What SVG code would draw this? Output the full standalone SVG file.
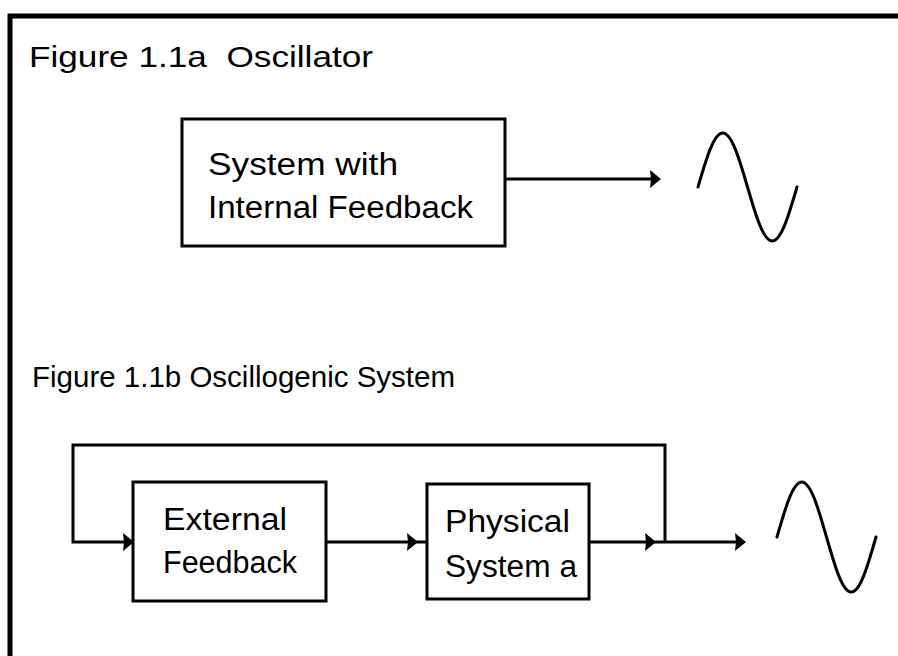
<svg xmlns="http://www.w3.org/2000/svg" width="898" height="656" viewBox="0 0 898 656">
<style>
  .box { fill: #ffffff; stroke: #000; stroke-width: 3; }
  .ln { fill: none; stroke: #000; stroke-width: 3; }
  .wave { fill: none; stroke: #000; stroke-width: 3; stroke-linecap: round; }
  .ah { fill: #000; }
  text { font-family: "Liberation Sans", "DejaVu Sans", sans-serif; fill: #000; }
  .h { font-size: 29px; }
  .t { font-size: 31px; }
</style>
<defs>
  <path id="arrow" class="ah" d="M0,0 L-11,-9 L-10,0 L-11,9 Z"/>
</defs>
<rect x="0" y="0" width="898" height="656" fill="#ffffff"/>
<path d="M10,656 L10,16 L898,16" fill="none" stroke="#000" stroke-width="5"/>

<text class="h" x="29" y="67" textLength="344" lengthAdjust="spacingAndGlyphs" xml:space="preserve">Figure 1.1a  Oscillator</text>
<text class="h" x="32" y="387" textLength="423" lengthAdjust="spacingAndGlyphs">Figure 1.1b Oscillogenic System</text>

<g id="node-internal">
  <rect class="box" x="182" y="119" width="323" height="127"/>
  <text class="t" x="208" y="175" textLength="190" lengthAdjust="spacingAndGlyphs">System with</text>
  <text class="t" x="208" y="218" textLength="265" lengthAdjust="spacingAndGlyphs">Internal Feedback</text>
</g>
<g id="node-wave1">
  <path class="wave" d="M698,187 C706.27,158.64 713.8,133 722.75,133 C731.7,133 739.23,158.64 747.5,187 C755.77,215.36 763.3,241 772.25,241 C781.2,241 788.73,215.36 797,187"/>
</g>
<g id="node-external">
  <rect class="box" x="133" y="482" width="193" height="119"/>
  <text class="t" x="163" y="530" textLength="124" lengthAdjust="spacingAndGlyphs">External</text>
  <text class="t" x="163" y="573" textLength="134" lengthAdjust="spacingAndGlyphs">Feedback</text>
</g>
<g id="node-physical">
  <rect class="box" x="427" y="484" width="162" height="115"/>
  <text class="t" x="445" y="532" textLength="125" lengthAdjust="spacingAndGlyphs">Physical</text>
  <text class="t" x="445" y="577" textLength="132" lengthAdjust="spacingAndGlyphs">System a</text>
</g>
<g id="node-wave2">
  <path class="wave" d="M777,537 C785.27,508.12 792.8,482 801.75,482 C810.7,482 818.23,508.12 826.5,537 C834.77,565.88 842.3,592 851.25,592 C860.2,592 867.73,565.88 876,537"/>
</g>

<g id="connectors">
  <line class="ln" x1="505" y1="179" x2="658" y2="179"/>
  <use href="#arrow" transform="translate(661,179)"/>
  <path class="ln" d="M665,542 L665,445 L73,445 L73,542 L131,542"/>
  <use href="#arrow" transform="translate(134,542)"/>
  <line class="ln" x1="326" y1="542" x2="427" y2="542"/>
  <use href="#arrow" transform="translate(418,542)"/>
  <line class="ln" x1="589" y1="542" x2="743" y2="542"/>
  <use href="#arrow" transform="translate(656,542)"/>
  <use href="#arrow" transform="translate(746,542)"/>
</g>
</svg>
